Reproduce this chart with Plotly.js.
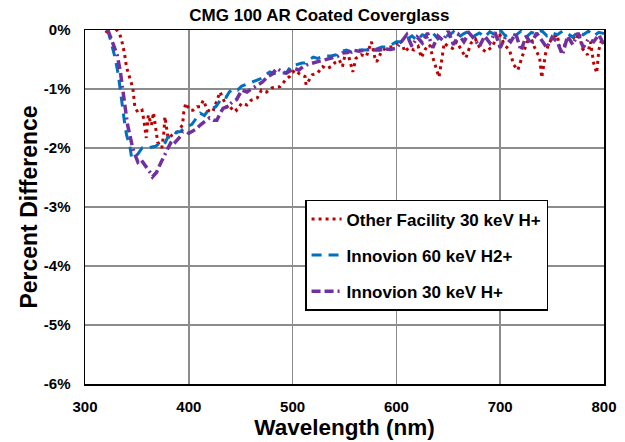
<!DOCTYPE html>
<html>
<head>
<meta charset="utf-8">
<script src="https://cdn.plot.ly/plotly-3.0.1.min.js"></script>
<style>html,body{margin:0;padding:0;background:#fff;}#chart{width:625px;height:442px;}</style>
</head>
<body>
<div id="chart"></div>
<script>
// Other Facility 30 keV H+ (red dotted)
var otherX = [320,324,328,333,335,338,340,343,346,347,348,351,355,357,358,359,361,364,366,369,370,374,376,377,378,380,384,389,394,395,397,401,404,408,411,414,418,423,427,430,435,439,443,446,451,456,460,466,470,475,480,488,493,497,502,507,512,513,519,524,529,533,537,541,545,548,552,556,558,561,566,571,576,579,581,586,591,597,603,606,608,612,617,621,624,628,632,635,638,641,644,646,650,654,658,663,667,672,676,680,686,692,696,699,704,709,713,717,721,726,730,733,738,740,744,747,751,755,758,762,765,769,773,776,779,784,787,790,793,795,798,800];
var otherY = [-0.05,0.05,0.05,-0.05,-0.15,-0.39,-0.63,-0.81,-0.98,-1.13,-1.30,-1.40,-1.36,-1.56,-1.73,-1.83,-1.44,-1.61,-1.40,-1.78,-1.90,-2.00,-1.73,-1.47,-1.58,-1.83,-1.78,-1.73,-1.61,-1.41,-1.24,-1.36,-1.36,-1.30,-1.30,-1.19,-1.36,-1.39,-1.20,-1.05,-1.24,-1.36,-1.30,-1.36,-1.24,-1.27,-1.19,-1.15,-1.02,-1.05,-0.98,-0.96,-0.85,-0.79,-0.68,-0.75,-0.79,-0.93,-0.76,-0.73,-0.62,-0.66,-0.62,-0.55,-0.51,-0.62,-0.31,-0.58,-0.71,-0.48,-0.42,-0.45,-0.20,-0.45,-0.54,-0.35,-0.30,-0.28,-0.17,-0.25,-0.37,-0.30,-0.34,-0.28,-0.47,-0.32,-0.25,-0.46,-0.64,-0.80,-0.47,-0.22,-0.28,-0.31,-0.20,-0.34,-0.47,-0.22,-0.15,-0.29,-0.37,-0.29,-0.15,-0.05,-0.25,-0.34,-0.59,-0.68,-0.46,-0.20,-0.15,-0.29,-0.47,-0.81,-0.37,-0.22,-0.12,-0.08,-0.37,-0.25,-0.17,-0.10,-0.17,-0.05,-0.31,-0.42,-0.20,-0.56,-0.73,-0.34,-0.15,-0.25];

// Innovion 60 keV H2+ (blue dashed)
var h2X = [322,325,329,332,334,336,338,340,343,345,348,351,355,360,364,368,372,376,380,384,388,392,396,399,403,407,411,415,419,422,426,430,433,436,439,443,447,451,454,458,462,466,470,474,478,482,486,490,494,498,502,505,509,512,516,520,524,528,533,537,542,547,552,557,562,567,571,576,581,586,590,595,600,606,610,615,620,625,630,635,640,645,650,655,660,665,670,675,680,685,690,695,700,705,710,715,720,725,730,735,740,745,750,755,760,765,770,775,780,785,790,795,800];
var h2Y = [0.0,-0.2,-0.47,-0.75,-1.05,-1.33,-1.55,-1.78,-1.95,-2.17,-2.15,-2.1,-2.0,-2.0,-1.98,-1.97,-1.92,-1.95,-1.81,-1.83,-1.73,-1.72,-1.66,-1.64,-1.6,-1.5,-1.41,-1.45,-1.35,-1.33,-1.3,-1.2,-1.13,-1.14,-1.05,-1.0,-1.02,-0.95,-0.93,-0.9,-0.88,-0.84,-0.82,-0.76,-0.71,-0.74,-0.72,-0.73,-0.73,-0.62,-0.6,-0.59,-0.56,-0.56,-0.5,-0.46,-0.48,-0.46,-0.44,-0.44,-0.42,-0.36,-0.34,-0.38,-0.34,-0.34,-0.34,-0.32,-0.32,-0.29,-0.29,-0.25,-0.2,-0.2,-0.15,-0.1,-0.18,-0.08,-0.12,-0.05,-0.15,-0.07,-0.1,-0.03,-0.12,-0.06,-0.02,-0.1,-0.05,-0.12,-0.03,-0.08,0.0,-0.1,-0.05,-0.09,-0.02,-0.12,-0.04,-0.07,-0.01,-0.1,-0.05,-0.08,-0.02,-0.06,-0.12,-0.03,-0.08,-0.02,-0.1,-0.04,-0.06];

// Innovion 30 keV H+ (purple dash-dot)
var hX = [322,326,331,334,336,338,341,344,346,349,351,354,356,359,361,363,365,367,369,372,375,378,380,383,385,387,389,392,394,397,400,403,407,411,415,420,424,427,430,433,437,442,446,451,456,462,466,471,476,480,485,490,494,497,502,506,510,515,519,524,529,534,538,543,548,553,558,564,569,574,579,584,589,594,600,605,610,615,620,625,630,635,640,645,650,655,660,665,670,675,680,685,690,695,700,705,710,715,720,725,730,735,740,745,750,755,760,765,770,775,780,785,790,795,800];
var hY = [0.0,-0.2,-0.42,-0.7,-0.93,-1.22,-1.61,-1.85,-2.0,-2.15,-2.24,-2.2,-2.25,-2.3,-2.37,-2.42,-2.49,-2.45,-2.41,-2.29,-2.17,-2.08,-2.0,-1.9,-1.86,-1.9,-1.86,-1.8,-1.73,-1.72,-1.75,-1.72,-1.68,-1.61,-1.55,-1.49,-1.53,-1.53,-1.42,-1.33,-1.3,-1.22,-1.18,-1.02,-1.05,-0.98,-0.95,-0.88,-0.79,-0.75,-0.65,-0.71,-0.73,-0.7,-0.65,-0.68,-0.62,-0.58,-0.56,-0.55,-0.51,-0.5,-0.48,-0.45,-0.39,-0.38,-0.34,-0.36,-0.34,-0.33,-0.34,-0.34,-0.32,-0.33,-0.31,-0.2,-0.08,-0.28,-0.12,-0.22,-0.05,-0.3,-0.1,-0.18,-0.02,-0.25,-0.08,-0.2,-0.05,-0.15,-0.28,-0.1,-0.22,-0.04,-0.3,-0.12,-0.2,-0.06,-0.35,-0.1,-0.25,-0.05,-0.18,-0.3,-0.12,-0.2,-0.42,-0.1,-0.25,-0.05,-0.3,-0.15,-0.2,-0.08,-0.25];

var xTicks = [300,400,500,600,700,800];
var yTicks = [0,-1,-2,-3,-4,-5,-6];
var yTickText = ['0%','-1%','-2%','-3%','-4%','-5%','-6%'];

var FONT = 'Liberation Sans, Arial, sans-serif';

var traces = [
  {x: otherX, y: otherY, name: 'Other Facility 30 keV H+', mode: 'lines', legendgroup: 'a',
   line: {color: '#c00000', width: 3, dash: '3px,4px'}},
  {x: h2X, y: h2Y, name: 'Innovion 60 keV H2+', mode: 'lines', legendgroup: 'b',
   line: {color: '#0070c0', width: 3, dash: '10px,7px'}},
  {x: hX, y: hY, name: 'Innovion 30 keV H+', mode: 'lines', legendgroup: 'c',
   line: {color: '#7030a0', width: 3.5, dash: '9px,4px,9px,4px,2px,4px'}}
];

var layout = {
  width: 625, height: 442,
  margin: {l: 85, r: 21, t: 30, b: 58},
  paper_bgcolor: '#fff', plot_bgcolor: '#fff',
  font: {family: FONT, color: '#000'},
  title: {text: 'CMG 100 AR Coated Coverglass', font: {size: 17, family: FONT, color: '#000', weight: 'bold'},
          x: 0.511, xanchor: 'center', y: 0.965, yanchor: 'middle'},
  xaxis: {range: [300, 800], tickvals: xTicks, ticktext: xTicks.map(String),
          tickfont: {size: 15, family: FONT, weight: 'bold'}, showgrid: true, gridcolor: '#8c8c8c', gridwidth: 1.5,
          showline: true, linecolor: '#000', linewidth: 1.5, mirror: true, ticks: '', zeroline: false,
          ticklabelstandoff: 8,
          title: {text: 'Wavelength (nm)', font: {size: 22.5, family: FONT, weight: 'bold'}, standoff: 2}},
  yaxis: {range: [-6, 0], tickvals: yTicks, ticktext: yTickText,
          tickfont: {size: 15, family: FONT, weight: 'bold'}, showgrid: true, gridcolor: '#8c8c8c', gridwidth: 1.5,
          showline: true, linecolor: '#000', linewidth: 1.5, mirror: true, ticks: '', zeroline: false,
          ticklabelstandoff: 10,
          title: {text: 'Percent Difference', font: {size: 23, family: FONT, weight: 'bold'}, standoff: 0}},
  showlegend: true,
  legend: {x: 0.424, y: 0.52, xanchor: 'left', yanchor: 'top', bgcolor: '#fff', bordercolor: '#000', borderwidth: 1.5,
           font: {size: 17, family: FONT, weight: 'bold'}, tracegroupgap: 11, itemwidth: 30}
};
Plotly.newPlot('chart', traces, layout, {displayModeBar: false, staticPlot: true});
</script>
</body>
</html>
